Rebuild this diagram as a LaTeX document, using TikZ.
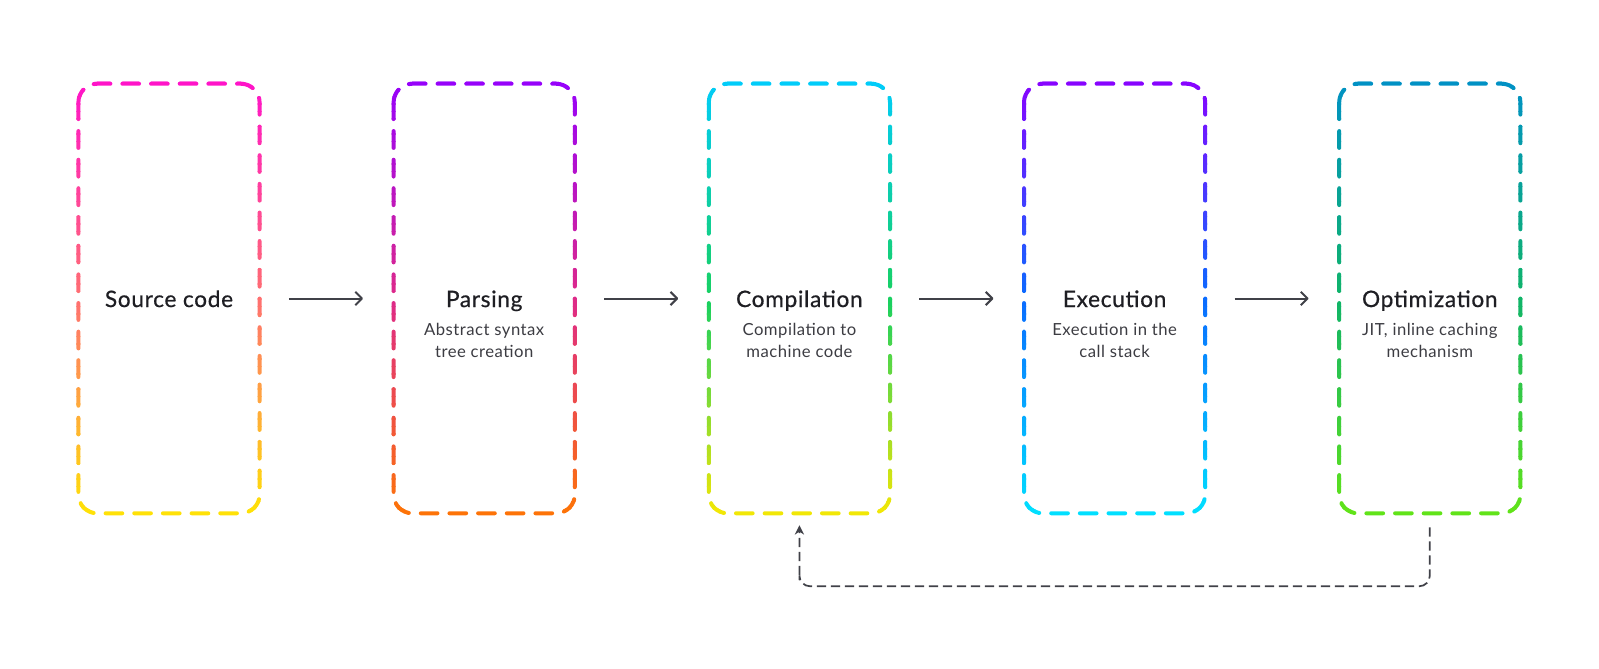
\documentclass[tikz,border=0pt]{standalone}
\usepackage{fontspec}
\setmainfont{Lato}[LetterSpace=3]
\newfontfamily\headfont{Lato}[FakeBold=0.6,LetterSpace=3]
\usetikzlibrary{positioning,calc,arrows.meta}

\definecolor{ink}{HTML}{1E1E23}
\definecolor{subink}{HTML}{3C3C42}
\definecolor{arrowgray}{HTML}{404148}
% top / middle / bottom of each frame
\definecolor{srcTop}{HTML}{FF10CC}\definecolor{srcMid}{HTML}{FF7070}\definecolor{srcBot}{HTML}{FFE800}
\definecolor{parTop}{HTML}{9400FF}\definecolor{parMid}{HTML}{DE2A88}\definecolor{parBot}{HTML}{FF7800}
\definecolor{cmpTop}{HTML}{00CCFF}\definecolor{cmpMid}{HTML}{18D060}\definecolor{cmpBot}{HTML}{FFE800}
\definecolor{exeTop}{HTML}{8C00FF}\definecolor{exeMid}{HTML}{0A6CFF}\definecolor{exeBot}{HTML}{00E6FF}
\definecolor{optTop}{HTML}{0090C8}\definecolor{optMid}{HTML}{10B468}\definecolor{optBot}{HTML}{66E614}

% dashed frame drawn strip by strip, so that its colour runs from top to bottom
\newcommand\gradframe[4]{%
  \foreach \i in {0,...,59}{%
    \pgfmathsetmacro\tpos{(\i+0.5)/60}%
    \ifdim\tpos pt<0.5pt
      \pgfmathtruncatemacro\p{200*\tpos}\colorlet{stripcol}{#3!\p!#2}%
    \else
      \pgfmathtruncatemacro\p{200*(\tpos-0.5)}\colorlet{stripcol}{#4!\p!#3}%
    \fi
    \begin{scope}
      \clip ($(#1.north west)+(-10,{-10+\i*7.5})$) rectangle ($(#1.north east)+(10,{-10+(\i+1)*7.5+0.6})$);
      \draw[frame, stripcol] (#1.north west) rectangle (#1.south east);
    \end{scope}
  }%
}

\begin{document}
\begin{tikzpicture}[x=0.75pt,y=-0.75pt]
  \tikzset{
  stage/.style = {rectangle, inner sep=0pt, minimum width=135.5pt,
    minimum height=321.75pt},
  frame/.style = {line width=3pt, rounded corners=14pt, line cap=round,
    dash pattern=on 12.5pt off 9pt},
  title/.style = {anchor=base, inner sep=0pt, text=ink,
    font=\headfont\fontsize{17pt}{20pt}\selectfont},
  subtitle/.style = {inner sep=0pt, align=center, text=subink,
    font=\fontsize{12.5pt}{16.5pt}\selectfont},
  flow/.style = {-{Straight Barb[length=5pt,width=10pt,line join=round]},
    line width=1.5pt, arrowgray, shorten >=1pt},
  loopback/.style = {-{Stealth[length=7pt,width=7pt]}, line width=1.3pt,
    arrowgray, dash pattern=on 7pt off 3.5pt, rounded corners=8pt}
}
\useasboundingbox (0,0) rectangle (1599,668);

% the five stages
\node [stage] (src) at (169,298.5) {};
\node [stage, right=100.5pt of src] (par) {};
\node [stage, right=100.5pt of par] (cmp) {};
\node [stage, right=100.5pt of cmp] (exe) {};
\node [stage, right=100.5pt of exe] (opt) {};

\gradframe{src}{srcTop}{srcMid}{srcBot}
\gradframe{par}{parTop}{parMid}{parBot}
\gradframe{cmp}{cmpTop}{cmpMid}{cmpBot}
\gradframe{exe}{exeTop}{exeMid}{exeBot}
\gradframe{opt}{optTop}{optMid}{optBot}

% titles and notes
\node [title] (srcT) at ([yshift=-6.4pt]src.center) {Source code};
\node [title] (parT) at ([yshift=-6.4pt]par.center) {Parsing};
\node [title] (cmpT) at ([yshift=-6.4pt]cmp.center) {Compilation};
\node [title] (exeT) at ([yshift=-6.4pt]exe.center) {Execution};
\node [title] (optT) at ([yshift=-6.4pt]opt.center) {Optimization};

\node [subtitle, below=12pt of parT.base] (parS) {Abstract syntax\\tree creation};
\node [subtitle, below=12pt of cmpT.base] (cmpS) {Compilation to\\machine code};
\node [subtitle, below=12pt of exeT.base] (exeS) {Execution in the\\call stack};
\node [subtitle, below=12pt of optT.base] (optS) {JIT, inline caching\\mechanism};

% arrows between stages
\foreach \a/\b in {src/par, par/cmp, cmp/exe, exe/opt}
  \draw [flow] ([xshift=22pt]\a.east) -- ([xshift=-22pt]\b.west);

% back from optimization to compilation
\coordinate (loopbot) at ($(cmp.south)+(0,73)$);
\draw [loopback] ([yshift=-10.5pt]opt.south) |- (loopbot) -| ([yshift=-9pt]cmp.south);
\end{tikzpicture}
\end{document}
